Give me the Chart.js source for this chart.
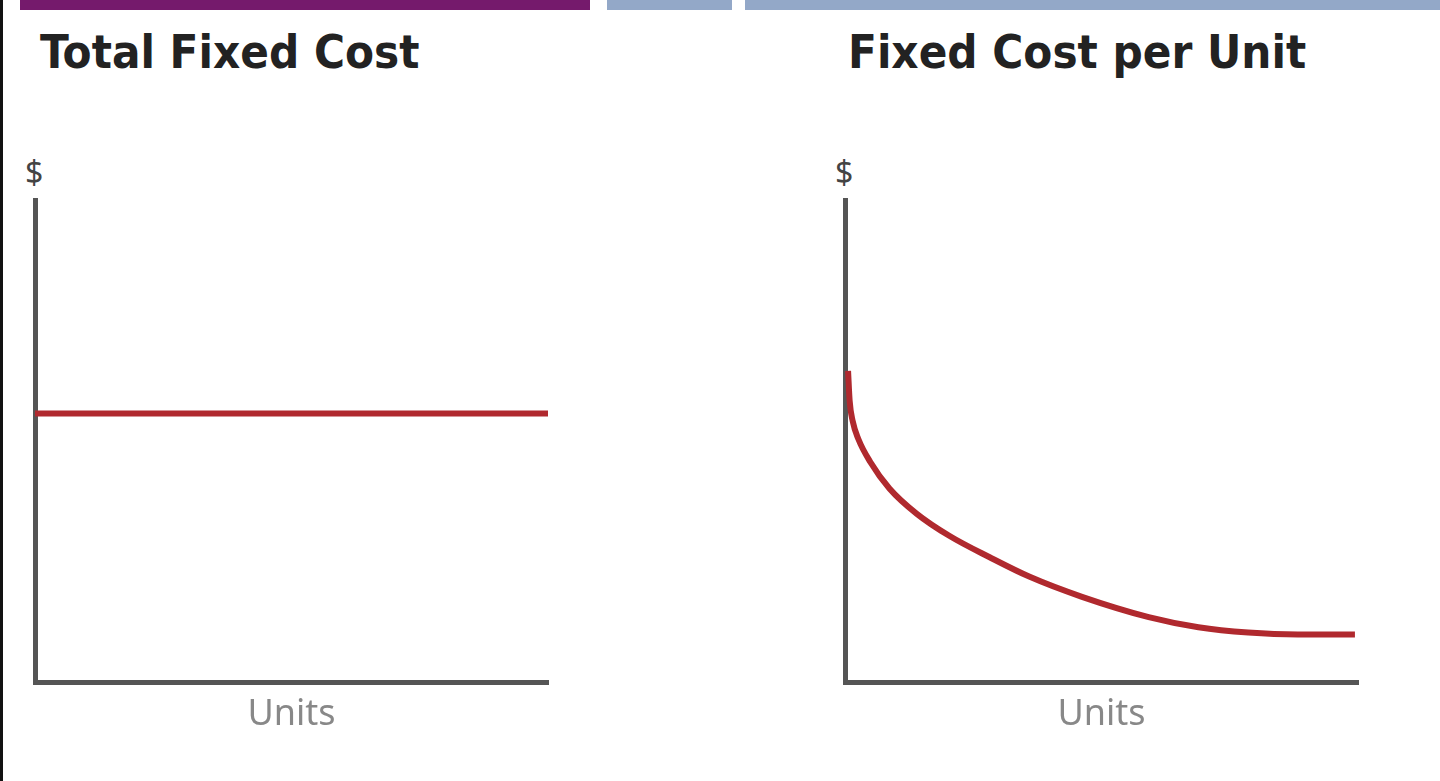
<!DOCTYPE html>
<html>
<head>
<meta charset="utf-8">
<script src="https://cdn.jsdelivr.net/npm/chart.js@4"></script>
<style>
  body { margin: 0; width: 1440px; height: 781px; background: #fff; position: relative; overflow: hidden; }
  .bar { position: absolute; top: 0; height: 10px; }
  .title { position: absolute; top: 24px; font-family: "DejaVu Sans Condensed", sans-serif; font-weight: bold; font-size: 47px; color: #222; white-space: nowrap; }
  .dollar { position: absolute; top: 150px; font-family: "Noto Sans", sans-serif; font-size: 32px; color: #444; }
  canvas { position: absolute; top: 190px; }
</style>
</head>
<body>
<div style="position:absolute;left:0;top:0;width:3px;height:781px;background:#111"></div>
<div class="bar" style="left:20px;width:570px;background:#751a6c"></div>
<div class="bar" style="left:607px;width:125px;background:#93a8c8"></div>
<div class="bar" style="left:745px;width:695px;background:#93a8c8"></div>
<div class="title" style="left:40px">Total Fixed Cost</div>
<div class="title" style="left:848px">Fixed Cost per Unit</div>
<div class="dollar" style="left:25px">$</div>
<div class="dollar" style="left:835px">$</div>
<canvas id="totalChart" width="570" height="550" style="left:0px"></canvas>
<canvas id="perUnitChart" width="570" height="550" style="left:810px"></canvas>
<script>
// units produced (x) and cost in $ (y), both on a 0-10 scale
var totalUnits = [0, 10];
var totalCost = [5.58, 5.58];

var perUnitUnits = [0.06, 0.09, 0.15, 0.26, 0.49, 0.87, 1.40, 2.04, 2.82, 3.59, 4.62, 5.92, 6.89, 7.86, 8.83, 9.94];
var perUnitCost = [6.46, 5.85, 5.42, 5.05, 4.58, 4.02, 3.50, 3.04, 2.60, 2.20, 1.78, 1.36, 1.15, 1.04, 1.0, 1.0];

var axisTitle = 'Units';

function toPoints(xs, ys) {
  return xs.map(function (x, i) { return { x: x, y: ys[i] }; });
}

function makeChart(id, xs, ys) {
  return new Chart(document.getElementById(id), {
    type: 'line',
    data: {
      datasets: [{
        data: toPoints(xs, ys),
        borderColor: '#b0292e',
        borderWidth: 6,
        pointRadius: 0,
        cubicInterpolationMode: 'monotone',
        fill: false
      }]
    },
    options: {
      responsive: false,
      animation: false,
      layout: { padding: { left: 27, right: 22, top: 10, bottom: 0 } },
      plugins: { legend: { display: false }, tooltip: { enabled: false } },
      scales: {
        x: {
          type: 'linear', min: 0, max: 10,
          grid: { display: false },
          ticks: { display: false },
          border: { display: true, color: '#555', width: 5 },
          title: {
            display: true, text: axisTitle, color: '#888',
            font: { family: 'Noto Sans', size: 36 },
            padding: { top: 2, bottom: 4 }
          }
        },
        y: {
          type: 'linear', min: 0, max: 10,
          grid: { display: false },
          ticks: { display: false },
          border: { display: true, color: '#555', width: 5 }
        }
      }
    }
  });
}

var c1 = makeChart('totalChart', totalUnits, totalCost);
var c2 = makeChart('perUnitChart', perUnitUnits, perUnitCost);
</script>
</body>
</html>
